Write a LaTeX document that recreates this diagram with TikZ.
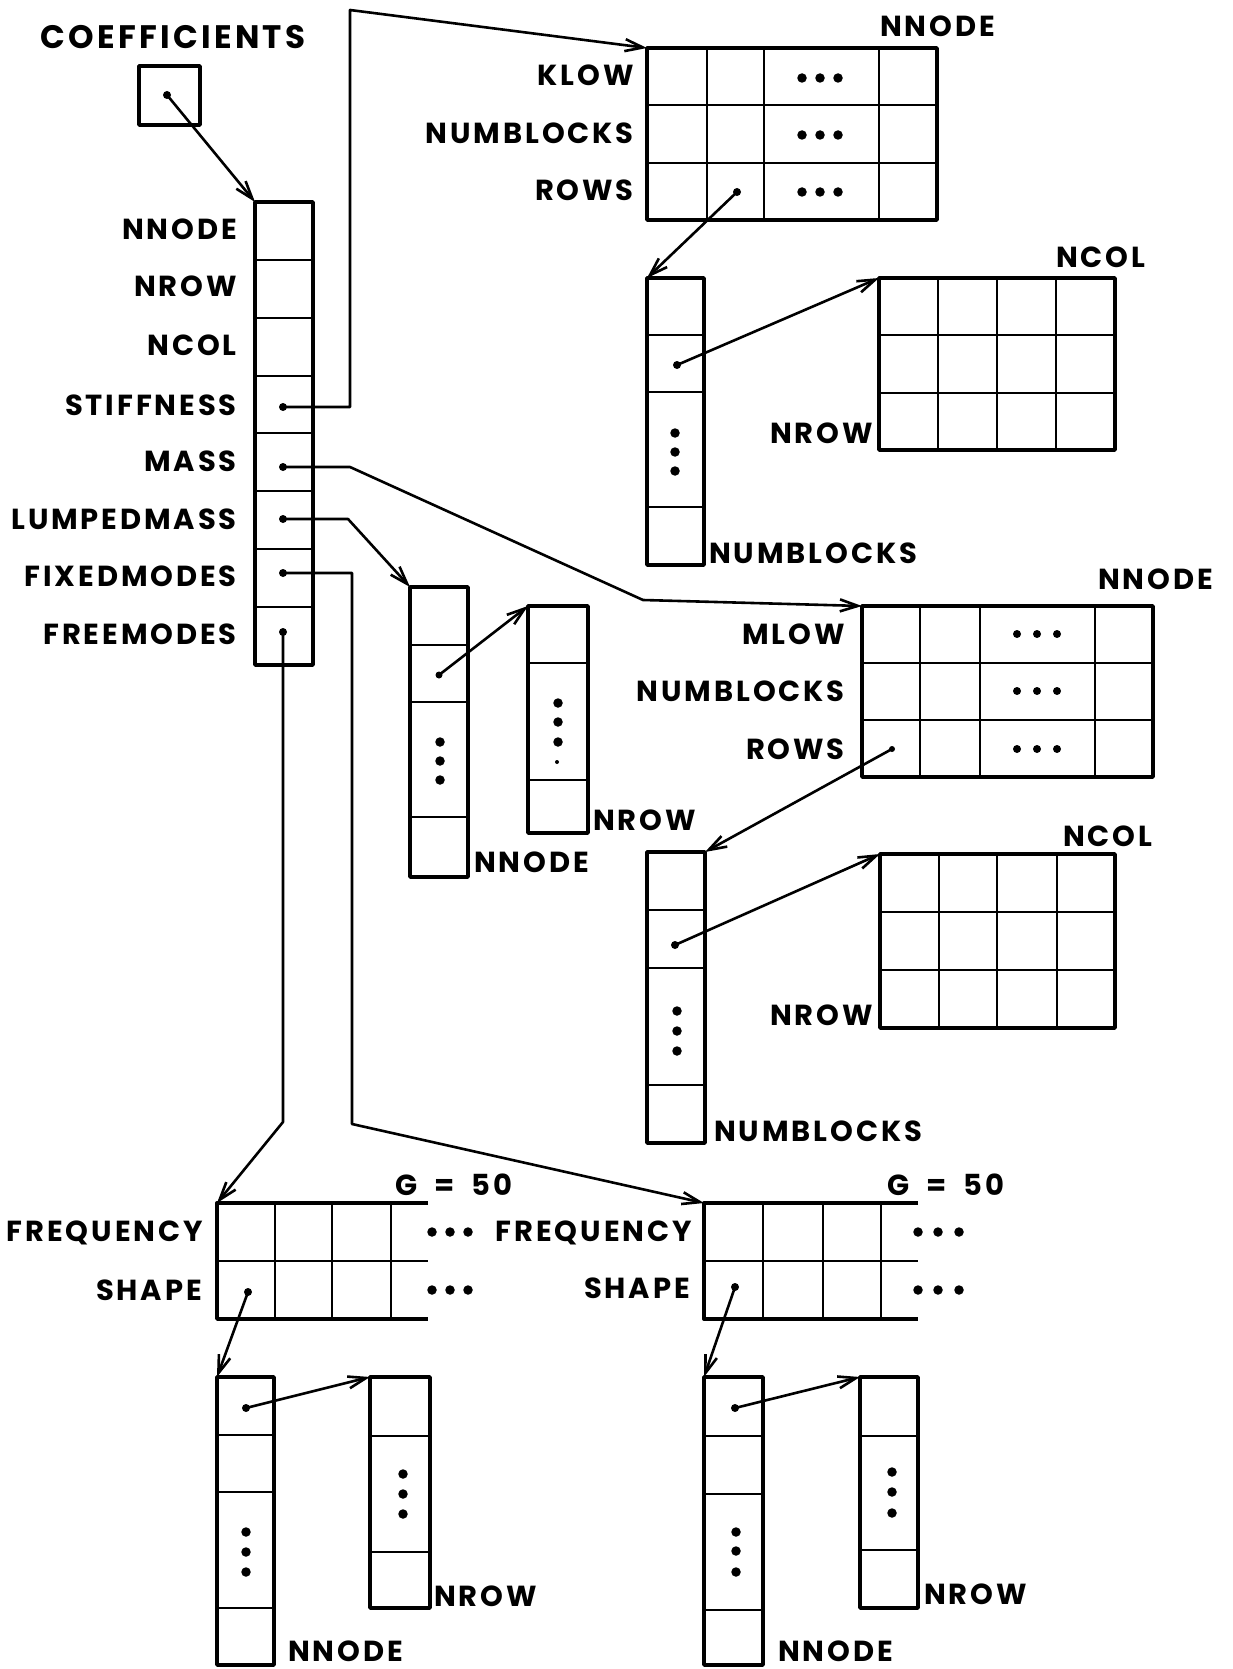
\documentclass[tikz,border=0pt]{standalone}
\usepackage{fontspec}
\newfontfamily\labfamily[LetterSpace=10]{Poppins}
\usetikzlibrary{arrows.meta}
\newcommand\labfnt{\labfamily\bfseries\fontsize{29}{32}\selectfont}
\newcommand\titfnt{\labfamily\bfseries\fontsize{32.5}{36}\selectfont}
\tikzset{
 box/.style={draw, line width=3.6pt, inner sep=0pt, outer sep=0pt, anchor=north west, line join=round},
 gridl/.style={line width=2.8pt},
 openl/.style={line width=3.4pt, line join=round},
 conn/.style={line width=2.6pt, line join=round, -{Straight Barb[length=18pt,width=12pt,line width=2.6pt]}},
 ptr/.style={circle, fill, inner sep=0pt, minimum size=8pt},
 edot/.style={circle, fill, inner sep=0pt, minimum size=9.5pt},
 lab/.style={font=\labfnt, inner sep=0pt},
 tit/.style={font=\titfnt, inner sep=0pt},
}
\begin{document}
\begin{tikzpicture}[x=1pt,y=-1pt]
\useasboundingbox[fill=white] (0,0) rectangle (1233,1669);

% ---------- COEFFICIENTS ----------
\node[tit, anchor=base] (tCoef) at (173,49) {COEFFICIENTS};
\node[box, minimum width=61pt, minimum height=59pt] (coef) at (139,66) {};
\node[ptr] (dC) at (167,95) {};

% ---------- main column ----------
\node[box, minimum width=58pt, minimum height=463pt] (main) at (255,202) {};
\foreach \yy in {260,318,376,433,491,549,607} \draw[gridl] (255,\yy) -- (313,\yy);
\node[lab, anchor=base east] (mNNODE) at (237,240) {NNODE};
\node[lab, anchor=base east] (mNROW) at (237,297) {NROW};
\node[lab, anchor=base east] (mNCOL) at (237,355) {NCOL};
\node[lab, anchor=base east] (mSTIFF) at (237,415) {STIFFNESS};
\node[lab, anchor=base east] (mMASS) at (237,471) {MASS};
\node[lab, anchor=base east] (mLUMP) at (237,529) {LUMPEDMASS};
\node[lab, anchor=base east] (mFIXED) at (237,586) {FIXEDMODES};
\node[lab, anchor=base east] (mFREE) at (237,644) {FREEMODES};
\node[ptr] (dS) at (283,407) {};
\node[ptr] (dM) at (283,467) {};
\node[ptr] (dL) at (283,519) {};
\node[ptr] (dF) at (283,573) {};
\node[ptr] (dR) at (283,632) {};

% ---------- KLOW table ----------
\node[box, minimum width=290pt, minimum height=172pt] (klow) at (647,48) {};
\foreach \xx in {707,764,879} \draw[gridl] (\xx,48) -- (\xx,220);
\foreach \yy in {105,163} \draw[gridl] (647,\yy) -- (937,\yy);
\node[lab, anchor=base east] (kKLOW) at (634,86) {KLOW};
\node[lab, anchor=base east] (kNUMB) at (634,144) {NUMBLOCKS};
\node[lab, anchor=base east] (kROWS) at (634,201) {ROWS};
\node[lab, anchor=base west] (kNNODE) at (880,37) {NNODE};
\foreach \yy/\nm in {78/a,135/b,192/c}{
  \foreach \xx/\k in {802/1,820/2,838/3} \node[edot] (ke\nm\k) at (\xx,\yy) {};
}
\node[ptr] (dKR) at (737,192) {};

% ---------- stiffness rows column ----------
\node[box, minimum width=57pt, minimum height=287pt] (scol) at (647,278) {};
\foreach \yy in {335,392,507} \draw[gridl] (647,\yy) -- (704,\yy);
\foreach \yy/\k in {433/1,452/2,471/3} \node[edot] (se\k) at (675,\yy) {};
\node[ptr] (dSC) at (677,365) {};
\node[lab, anchor=base west] (sNUMB) at (709,563) {NUMBLOCKS};

% ---------- grid 1 ----------
\node[box, minimum width=236pt, minimum height=172pt] (g1) at (879,278) {};
\foreach \xx in {938,997,1056} \draw[gridl] (\xx,278) -- (\xx,450);
\foreach \yy in {335,393} \draw[gridl] (879,\yy) -- (1115,\yy);
\node[lab, anchor=base west] (g1NCOL) at (1056,268) {NCOL};
\node[lab, anchor=base east] (g1NROW) at (873,443) {NROW};

% ---------- MLOW table ----------
\node[box, minimum width=291pt, minimum height=171pt] (mlow) at (862,606) {};
\foreach \xx in {920,980,1095} \draw[gridl] (\xx,606) -- (\xx,777);
\foreach \yy in {663,720} \draw[gridl] (862,\yy) -- (1153,\yy);
\node[lab, anchor=base east] (mlMLOW) at (845,644) {MLOW};
\node[lab, anchor=base east] (mlNUMB) at (845,701) {NUMBLOCKS};
\node[lab, anchor=base east] (mlROWS) at (845,759) {ROWS};
\node[lab, anchor=base west] (mlNNODE) at (1098,589) {NNODE};
\foreach \yy/\nm in {634/a,691/b,749/c}{
  \foreach \xx/\k in {1017/1,1037/2,1057/3} \node[edot, minimum size=8pt] (me\nm\k) at (\xx,\yy) {};
}
\node[ptr, minimum size=6pt] (dMR) at (892,749) {};

% ---------- mass rows column ----------
\node[box, minimum width=58pt, minimum height=291pt] (mcol) at (647,852) {};
\foreach \yy in {910,968,1085} \draw[gridl] (647,\yy) -- (705,\yy);
\foreach \yy/\k in {1011/1,1031/2,1051/3} \node[edot] (mce\k) at (677,\yy) {};
\node[ptr] (dMC) at (675,945) {};
\node[lab, anchor=base west] (mcNUMB) at (714,1141) {NUMBLOCKS};

% ---------- grid 2 ----------
\node[box, minimum width=235pt, minimum height=174pt] (g2) at (880,854) {};
\foreach \xx in {939,997,1057} \draw[gridl] (\xx,854) -- (\xx,1028);
\foreach \yy in {912,970} \draw[gridl] (880,\yy) -- (1115,\yy);
\node[lab, anchor=base west] (g2NCOL) at (1063,846) {NCOL};
\node[lab, anchor=base east] (g2NROW) at (873,1025) {NROW};

% ---------- lumped mass columns ----------
\node[box, minimum width=58pt, minimum height=290pt] (lcol) at (410,587) {};
\foreach \yy in {645,702,817} \draw[gridl] (410,\yy) -- (468,\yy);
\foreach \yy/\k in {742/1,761/2,780/3} \node[edot] (le\k) at (440,\yy) {};
\node[ptr, minimum size=7pt] (dLC) at (439,675) {};
\node[lab, anchor=base west] (lNNODE) at (474,872) {NNODE};
\node[box, minimum width=60pt, minimum height=227pt] (lcol2) at (528,606) {};
\foreach \yy in {663,780} \draw[gridl] (528,\yy) -- (588,\yy);
\foreach \yy/\k in {703/1,722/2,742/3} \node[edot] (l2e\k) at (558,\yy) {};
\node[ptr, minimum size=4pt] (l2e4) at (557,762) {};
\node[lab, anchor=base west] (lNROW) at (593,830) {NROW};

% ---------- FREQUENCY table 1 ----------
\coordinate (freq1) at (217,1203);
\draw[openl] (428,1203) -- (freq1) -- (217,1319) -- (428,1319);
\draw[gridl] (217,1261) -- (428,1261);
\foreach \xx in {275,332,391} \draw[gridl] (\xx,1203) -- (\xx,1319);
\node[lab, anchor=base east] (f1FREQ) at (203,1241) {FREQUENCY};
\node[lab, anchor=base east] (f1SHAPE) at (202,1300) {SHAPE};
\node[lab, anchor=base west] (f1G) at (395,1195) {G\hspace{17pt}=\hspace{17pt}50};
\foreach \yy/\nm in {1232/a,1290/b}{
  \foreach \xx/\k in {432/1,450/2,468/3} \node[edot] (f1e\nm\k) at (\xx,\yy) {};
}
\node[ptr] (dF1S) at (248,1292) {};
\node[box, minimum width=57pt, minimum height=288pt] (f1c) at (217,1377) {};
\foreach \yy in {1435,1492,1608} \draw[gridl] (217,\yy) -- (274,\yy);
\foreach \yy/\k in {1532/1,1552/2,1572/3} \node[edot] (f1ce\k) at (246,\yy) {};
\node[ptr] (dF1C) at (246,1408) {};
\node[lab, anchor=base west] (f1NNODE) at (288,1661) {NNODE};
\node[box, minimum width=60pt, minimum height=231pt] (f1c2) at (370,1377) {};
\foreach \yy in {1436,1552} \draw[gridl] (370,\yy) -- (430,\yy);
\foreach \yy/\k in {1474/1,1494/2,1514/3} \node[edot] (f1c2e\k) at (403,\yy) {};
\node[lab, anchor=base west] (f1NROW) at (434,1606) {NROW};

% ---------- FREQUENCY table 2 ----------
\coordinate (freq2) at (704,1203);
\draw[openl] (918,1203) -- (freq2) -- (704,1319) -- (918,1319);
\draw[gridl] (704,1261) -- (918,1261);
\foreach \xx in {763,823,881} \draw[gridl] (\xx,1203) -- (\xx,1319);
\node[lab, anchor=base east] (f2FREQ) at (692,1241) {FREQUENCY};
\node[lab, anchor=base east] (f2SHAPE) at (690,1298) {SHAPE};
\node[lab, anchor=base west] (f2G) at (887,1195) {G\hspace{17pt}=\hspace{17pt}50};
\foreach \yy/\nm in {1232/a,1290/b}{
  \foreach \xx/\k in {918/1,938/2,959/3} \node[edot] (f2e\nm\k) at (\xx,\yy) {};
}
\node[ptr] (dF2S) at (735,1287) {};
\node[box, minimum width=59pt, minimum height=288pt] (f2c) at (704,1377) {};
\foreach \yy in {1436,1494,1610} \draw[gridl] (704,\yy) -- (763,\yy);
\foreach \yy/\k in {1532/1,1551/2,1572/3} \node[edot] (f2ce\k) at (736,\yy) {};
\node[ptr] (dF2C) at (735,1408) {};
\node[lab, anchor=base west] (f2NNODE) at (778,1661) {NNODE};
\node[box, minimum width=58pt, minimum height=231pt] (f2c2) at (860,1377) {};
\foreach \yy in {1436,1550} \draw[gridl] (860,\yy) -- (918,\yy);
\foreach \yy/\k in {1472/1,1492/2,1513/3} \node[edot] (f2c2e\k) at (892,\yy) {};
\node[lab, anchor=base west] (f2NROW) at (924,1604) {NROW};

% ---------- connectors ----------
\coordinate (s1) at (350,407);
\coordinate (s2) at (350,10);
\coordinate (m1) at (350,467);
\coordinate (m2) at (643,600);
\coordinate (l1) at (348,519);
\coordinate (x1) at (352,573);
\coordinate (x2) at (352,1124);
\coordinate (r1) at (283,1122);

\draw[conn] (dC.center) -- (main.north west);
\draw[conn] (dS.center) -- (s1) -- (s2) -- (klow.north west);
\draw[conn] (dKR.center) -- (scol.north west);
\draw[conn] (dSC.center) -- (g1.north west);
\draw[conn] (dM.center) -- (m1) -- (m2) -- (mlow.north west);
\draw[conn] (dMR.center) -- (mcol.north east);
\draw[conn] (dMC.center) -- (g2.north west);
\draw[conn] (dL.center) -- (l1) -- (lcol.north west);
\draw[conn] (dLC.center) -- (lcol2.north west);
\draw[conn] (dF.center) -- (x1) -- (x2) -- (freq2);
\draw[conn] (dR.center) -- (r1) -- (freq1);
\draw[conn] (dF1S.center) -- (f1c.north west);
\draw[conn] (dF1C.center) -- (f1c2.north west);
\draw[conn] (dF2S.center) -- (f2c.north west);
\draw[conn] (dF2C.center) -- (f2c2.north west);
\end{tikzpicture}
\end{document}
